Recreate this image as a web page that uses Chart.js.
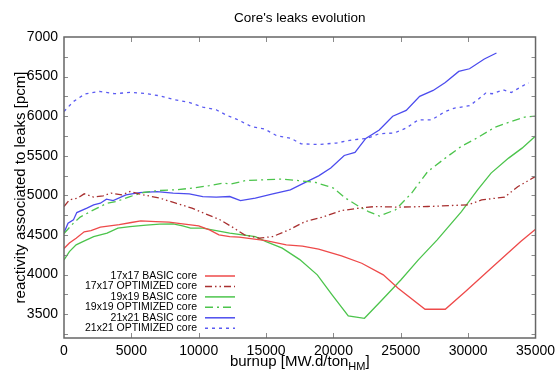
<!DOCTYPE html>
<html><head><meta charset="utf-8">
<script src="https://cdn.jsdelivr.net/npm/chart.js@4.4.1/dist/chart.umd.min.js"></script>
<style>html,body{margin:0;padding:0;background:#fff}</style>
</head><body>
<canvas id="c" width="560" height="371"></canvas>
<script>
// ---- data ----
const chartTitle = "Core's leaks evolution";
const yAxisTitle = "reactivity associated to leaks [pcm]";
const xAxisTitleMain = "burnup [MW.d/ton";
const xAxisTitleSub = "HM";
const xAxisTitleEnd = "]";

const seriesNames = ["17x17 BASIC core", "17x17 OPTIMIZED core", "19x19 BASIC core",
                     "19x19 OPTIMIZED core", "21x21 BASIC core", "21x21 OPTIMIZED core"];

const xTicks = [0, 5000, 10000, 15000, 20000, 25000, 30000, 35000];
const yTicks = [3250, 3500, 3750, 4000, 4250, 4500, 4750, 5000, 5250, 5500, 5750, 6000, 6250, 6500, 6750, 7000];

const burnup17Basic = [0, 400, 900, 1500, 2000, 2700, 3400, 4100, 5000, 5700, 6800, 7800, 8800, 10000, 10800, 11500, 12300, 13000, 15000, 16500, 17700, 18900, 20600, 22100, 23700, 24800, 26800, 28300, 29800, 31700, 33900, 35000];
const leaks17Basic  = [4330, 4400, 4460, 4540, 4556, 4600, 4616, 4630, 4658, 4679, 4670, 4662, 4641, 4616, 4565, 4502, 4481, 4473, 4430, 4376, 4360, 4321, 4237, 4144, 3997, 3829, 3563, 3563, 3786, 4081, 4417, 4574];

const burnup17Opt = [0, 400, 1000, 1500, 2200, 2900, 3500, 4300, 4900, 5900, 7100, 8300, 9500, 10500, 11500, 12500, 13400, 14500, 15500, 16700, 17900, 19200, 20600, 21900, 23100, 24800, 27000, 30000, 31000, 32700, 33700, 35000];
const leaks17Opt  = [4860, 4944, 4966, 5020, 4978, 4995, 5029, 5007, 5049, 5007, 4966, 4902, 4839, 4767, 4700, 4600, 4502, 4460, 4481, 4565, 4670, 4726, 4809, 4839, 4860, 4852, 4860, 4881, 4944, 4978, 5112, 5240];

const burnup19Basic = [0, 400, 900, 1400, 2200, 3200, 4000, 4900, 6100, 7100, 8100, 8800, 9400, 10300, 11300, 12300, 14200, 15000, 16200, 17500, 18800, 19900, 21100, 22300, 23600, 25000, 26300, 27700, 29500, 30700, 31700, 33000, 34000, 35000];
const leaks19Basic  = [4186, 4291, 4376, 4417, 4480, 4523, 4586, 4607, 4624, 4637, 4641, 4616, 4586, 4586, 4556, 4523, 4480, 4417, 4334, 4190, 3997, 3744, 3478, 3449, 3680, 3933, 4186, 4439, 4796, 5071, 5282, 5471, 5597, 5750];

const burnup19Opt = [0, 700, 1200, 2200, 3200, 3900, 4900, 5900, 7100, 8300, 9500, 10800, 11800, 12400, 13500, 14700, 16200, 17400, 18700, 20000, 20900, 21900, 22600, 23400, 24600, 25800, 27000, 28300, 29500, 30500, 32000, 33200, 34200, 35000];
const leaks19Opt  = [4520, 4650, 4726, 4818, 4902, 4923, 4986, 5037, 5062, 5071, 5092, 5125, 5155, 5146, 5188, 5197, 5206, 5188, 5163, 5092, 4966, 4859, 4796, 4740, 4818, 5029, 5302, 5471, 5620, 5710, 5862, 5934, 5989, 6000];

const burnup21Basic = [0, 300, 700, 950, 1700, 2200, 2700, 3150, 3650, 4600, 5600, 6900, 8100, 9300, 10300, 11300, 12300, 13100, 14200, 15500, 16800, 17800, 18900, 19800, 20800, 21600, 22400, 23400, 24400, 25400, 26400, 27400, 28300, 29300, 30100, 31200, 32100];
const leaks21Basic  = [4530, 4650, 4691, 4784, 4839, 4881, 4902, 4953, 4935, 5007, 5036, 5049, 5028, 5020, 4986, 4978, 4986, 4935, 4966, 5020, 5071, 5155, 5247, 5345, 5504, 5542, 5720, 5825, 6000, 6073, 6250, 6325, 6426, 6565, 6599, 6722, 6798];

const burnup21Opt = [0, 700, 1550, 2650, 3750, 4900, 6000, 7100, 8100, 9200, 10300, 11300, 12100, 12800, 13900, 14900, 15800, 16800, 17600, 18900, 20200, 21400, 22500, 23400, 24500, 25400, 26300, 27300, 28300, 29000, 30100, 30700, 31300, 31800, 32600, 33200, 34200, 34500];
const leaks21Opt  = [6060, 6186, 6280, 6313, 6284, 6300, 6287, 6258, 6212, 6179, 6115, 6081, 6010, 5964, 5870, 5837, 5753, 5724, 5652, 5643, 5661, 5702, 5720, 5780, 5787, 5850, 5955, 5955, 6060, 6103, 6132, 6208, 6292, 6284, 6334, 6300, 6397, 6420];

// ---- styles ----
const FONT = '"Liberation Sans", Arial, Helvetica, sans-serif';
const seriesX = [burnup17Basic, burnup17Opt, burnup19Basic, burnup19Opt, burnup21Basic, burnup21Opt];
const seriesY = [leaks17Basic, leaks17Opt, leaks19Basic, leaks19Opt, leaks21Basic, leaks21Opt];
const colors = ['#ee4a4a', '#a83030', '#4cc44c', '#4cc44c', '#4c4cee', '#5a5af2'];
const dashes = [[], [7, 3, 1.5, 3, 1.5, 3], [], [8, 4, 2, 4], [], [3, 4]];

const datasets = seriesNames.map((name, i) => ({
  label: name,
  data: seriesX[i].map((v, k) => ({ x: v, y: seriesY[i][k] })),
  borderColor: colors[i],
  borderWidth: 1.3,
  borderDash: dashes[i],
  pointRadius: 0,
  tension: 0,
  fill: false
}));

const frame = {
  id: 'frame',
  afterDraw(chart) {
    const { ctx, chartArea: a, scales: { x, y } } = chart;
    ctx.save();
    const line = (x1, y1, x2, y2) => { ctx.beginPath(); ctx.moveTo(x1, y1); ctx.lineTo(x2, y2); ctx.stroke(); };
    // inward ticks
    ctx.strokeStyle = '#8a8a8a'; ctx.lineWidth = 1;
    x.ticks.forEach(t => {
      const px = Math.round(x.getPixelForValue(t.value)) + 0.5;
      if (px <= a.left + 2 || px >= a.right - 2) return;
      line(px, a.bottom, px, a.bottom - 5); line(px, a.top, px, a.top + 5);
    });
    y.ticks.forEach(t => {
      const py = Math.round(y.getPixelForValue(t.value)) + 0.5;
      if (py <= a.top + 2 || py >= a.bottom - 2) return;
      line(a.left, py, a.left + 4, py); line(a.right, py, a.right - 4, py);
    });
    // frame
    ctx.strokeStyle = '#666'; ctx.lineWidth = 1.5;
    ctx.strokeRect(a.left, a.top, a.right - a.left, a.bottom - a.top);
    // title
    ctx.fillStyle = '#000';
    ctx.font = '13.5px ' + FONT; ctx.textAlign = 'center'; ctx.textBaseline = 'middle';
    ctx.fillText(chartTitle, (a.left + a.right) / 2, 18);
    // y title
    ctx.save();
    ctx.translate(21, (a.top + a.bottom) / 2); ctx.rotate(-Math.PI / 2);
    ctx.font = '15px ' + FONT; ctx.textAlign = 'center'; ctx.textBaseline = 'middle';
    ctx.fillText(yAxisTitle, 0, 0);
    ctx.restore();
    // x title with subscript
    ctx.textAlign = 'left'; ctx.textBaseline = 'alphabetic';
    ctx.font = '15px ' + FONT; const w1 = ctx.measureText(xAxisTitleMain).width;
    const w3 = ctx.measureText(xAxisTitleEnd).width;
    ctx.font = '11px ' + FONT; const w2 = ctx.measureText(xAxisTitleSub).width;
    let sx = (a.left + a.right) / 2 - (w1 + w2 + w3) / 2;
    const by = 366;
    ctx.font = '15px ' + FONT; ctx.fillText(xAxisTitleMain, sx, by);
    ctx.font = '11px ' + FONT; ctx.fillText(xAxisTitleSub, sx + w1, by + 4);
    ctx.font = '15px ' + FONT; ctx.fillText(xAxisTitleEnd, sx + w1 + w2, by);
    // legend
    ctx.font = '10.5px ' + FONT; ctx.textAlign = 'right'; ctx.textBaseline = 'middle';
    chart.data.datasets.forEach((ds, i) => {
      const ly = 276 + i * 10.45;
      ctx.fillStyle = '#000';
      ctx.fillText(ds.label, 197, ly);
      ctx.strokeStyle = ds.borderColor; ctx.lineWidth = 1.5; ctx.setLineDash(ds.borderDash);
      line(205, ly, 235, ly);
      ctx.setLineDash([]);
    });
    ctx.restore();
  }
};

new Chart(document.getElementById('c'), {
  type: 'line',
  data: { datasets },
  options: {
    responsive: false,
    animation: false,
    devicePixelRatio: 1,
    layout: { padding: { top: 37, right: 23, left: 0, bottom: 0 } },
    plugins: { legend: { display: false }, title: { display: false }, tooltip: { enabled: false } },
    scales: {
      x: {
        type: 'linear', min: 0, max: 35000,
        grid: { display: false, drawTicks: false },
        border: { display: false },
        afterBuildTicks: s => { s.ticks = xTicks.map(v => ({ value: v })); },
        afterFit: s => { s.height = 33; },
        ticks: { padding: 5, color: '#000', font: { family: FONT, size: 14 }, maxRotation: 0, autoSkip: false,
                 callback: v => String(v) }
      },
      y: {
        type: 'linear', min: 3200, max: 7000,
        grid: { display: false, drawTicks: false },
        border: { display: false },
        afterBuildTicks: s => { s.ticks = yTicks.map(v => ({ value: v })); },
        afterFit: s => { s.width = 64; },
        ticks: { padding: 6, color: '#000', font: { family: FONT, size: 14 }, autoSkip: false,
                 callback: v => (v % 500 === 0 ? String(v) : '') }
      }
    }
  },
  plugins: [frame]
});
</script>
</body></html>
